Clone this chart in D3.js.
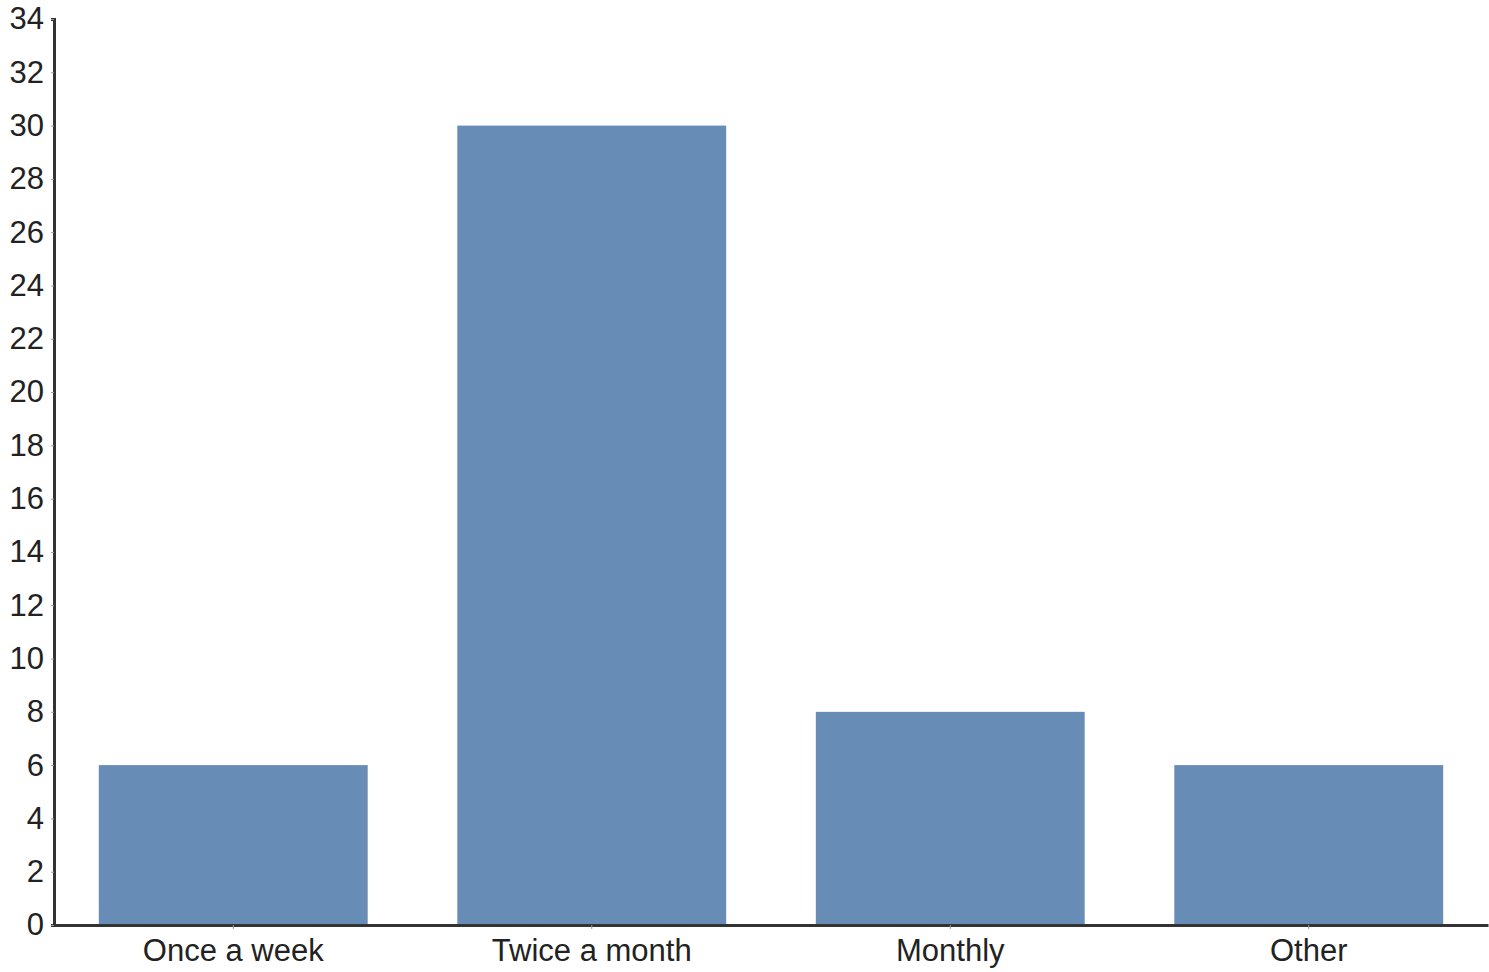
<!DOCTYPE html>
<html><head><meta charset="utf-8">
<script src="https://cdn.jsdelivr.net/npm/d3@7"></script>
<style>body{margin:0;background:#fff}svg{display:block}</style>
</head><body>
<svg id="c" width="1489" height="972"></svg>
<script>
const categories = ["Once a week", "Twice a month", "Monthly", "Other"];
const values = [6, 30, 8, 6];
const yTicks = d3.range(0, 35, 2);

const svg = d3.select("#c");
const m = {left: 54, right: 1, top: 19, bottom: 47};
const W = 1489, H = 972;
const x = d3.scaleBand().domain(categories).range([m.left, W - m.right])
  .paddingInner(0.25).paddingOuter(0.125);
const y = d3.scaleLinear().domain([0, 34]).range([H - m.bottom, m.top]);

svg.selectAll("rect.bar").data(values).join("rect")
  .attr("class", "bar")
  .attr("x", (d, i) => x(categories[i]))
  .attr("width", x.bandwidth())
  .attr("y", d => y(d))
  .attr("height", d => y(0) - y(d))
  .attr("fill", "#678cb6");

const font = "'Liberation Sans', Arial, sans-serif";
const ya = svg.append("g").attr("transform", `translate(${m.left},0)`)
  .call(d3.axisLeft(y).tickValues(yTicks).tickSize(3).tickPadding(7));
ya.select(".domain").attr("stroke", "#333").attr("stroke-width", 3);
ya.selectAll(".tick line").attr("stroke", "#999").attr("stroke-width", 1);
ya.selectAll(".tick text").attr("font-family", font).attr("font-size", 31).attr("fill", "#222");

const xa = svg.append("g").attr("transform", `translate(0,${y(0)})`)
  .call(d3.axisBottom(x).tickSize(4).tickPadding(10).tickSizeOuter(0));
xa.select(".domain").attr("stroke", "#333").attr("stroke-width", 3);
xa.selectAll(".tick line").attr("stroke", "#999").attr("stroke-width", 1);
xa.selectAll(".tick text").attr("font-family", font).attr("font-size", 31).attr("fill", "#222");
</script>
</body></html>
